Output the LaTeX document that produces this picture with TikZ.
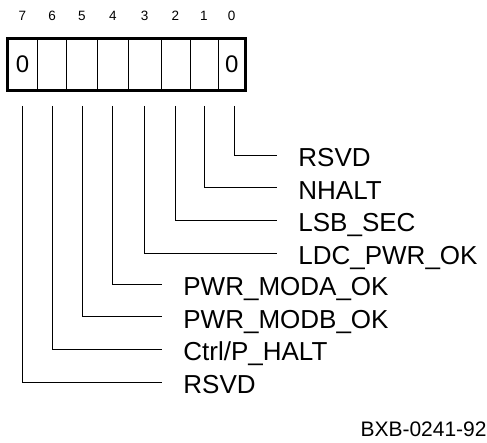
\documentclass[tikz,border=0pt]{standalone}
\usepackage{fontspec}
\setmainfont{Liberation Sans}
\usetikzlibrary{positioning}

\begin{document}
\begin{tikzpicture}[
    x=1pt,y=-1pt,
    cell/.style={
      draw,
      line width=0.8pt,
      minimum height=52pt,
      inner sep=0pt,
      outer sep=0pt,
      font=\fontsize{24}{28}\selectfont
    },
    bitno/.style={inner sep=0pt,text depth=0pt,font=\fontsize{13.5}{16}\selectfont},
    field/.style={
      inner sep=0pt,
      text height=22.6pt,
      text depth=0pt,
      font=\fontsize{26}{30}\selectfont
    },
    every path/.style={line width=0.8pt}
  ]
    \useasboundingbox (0,0) rectangle (487,443);
    % register cells, bit 7 on the left
    \node[cell,minimum width=30pt] (c7) at (22.5,64.5) {0};
    \node[cell,minimum width=29.2pt,right=0pt of c7] (c6) {};
    \node[cell,minimum width=30.6pt,right=0pt of c6] (c5) {};
    \node[cell,minimum width=31pt,right=0pt of c5] (c4) {};
    \node[cell,minimum width=32.7pt,right=0pt of c4] (c3) {};
    \node[cell,minimum width=29pt,right=0pt of c3] (c2) {};
    \node[cell,minimum width=28pt,right=0pt of c2] (c1) {};
    \node[cell,minimum width=27.5pt,right=0pt of c1] (c0) {0};
    \draw[line width=3pt] (c7.north west) rectangle (c0.south east);
    \node[bitno,above=17.5pt of c7] (b7) {7};
    \node[bitno,above=17.5pt of c6] (b6) {6};
    \node[bitno,above=17.5pt of c5] (b5) {5};
    \node[bitno,above=17.5pt of c4] (b4) {4};
    \node[bitno,above=17.5pt of c3] (b3) {3};
    \node[bitno,above=17.5pt of c2] (b2) {2};
    \node[bitno,above=17.5pt of c1] (b1) {1};
    \node[bitno,above=17.5pt of c0] (b0) {0};
    % field names
    \node[field,anchor=west] (r0) at (298,155) {RSVD};
    \node[field,below=9.4pt of r0.south west,anchor=north west] (r1) {NHALT};
    \node[field,below=9.4pt of r1.south west,anchor=north west] (r2) {LSB\_SEC};
    \node[field,below=9.4pt of r2.south west,anchor=north west] (r3) {LDC\_PWR\_OK};
    \node[field,anchor=west] (r4) at (183,284) {PWR\_MODA\_OK};
    \node[field,below=9.4pt of r4.south west,anchor=north west] (r5) {PWR\_MODB\_OK};
    \node[field,below=9.4pt of r5.south west,anchor=north west] (r6) {Ctrl/P\_HALT};
    \node[field,below=9.4pt of r6.south west,anchor=north west] (r7) {RSVD};
    \draw[shorten >=21pt] ([xshift=3pt,yshift=-15.5pt]c0.south) |- (r0.west);
    \draw[shorten >=21pt] ([yshift=-15.5pt]c1.south) |- (r1.west);
    \draw[shorten >=21pt] ([yshift=-15.5pt]c2.south) |- (r2.west);
    \draw[shorten >=21pt] ([yshift=-15.5pt]c3.south) |- (r3.west);
    \draw[shorten >=21pt] ([yshift=-15.5pt]c4.south) |- (r4.west);
    \draw[shorten >=21pt] ([yshift=-15.5pt]c5.south) |- (r5.west);
    \draw[shorten >=21pt] ([yshift=-15.5pt]c6.south) |- (r6.west);
    \draw[shorten >=21pt] ([yshift=-15.5pt]c7.south) |- (r7.west);
    \node[anchor=base east,inner sep=0pt,font=\fontsize{21}{25}\selectfont] (fig)
      at (487,436) {BXB-0241-92};
  \end{tikzpicture}
\end{document}
